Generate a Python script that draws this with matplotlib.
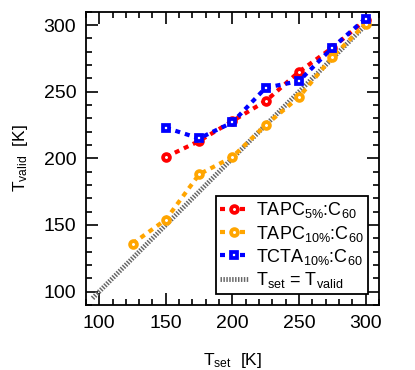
import matplotlib

matplotlib.use("Agg")
import matplotlib.pyplot as plt

plt.rcParams["font.family"] = ["Liberation Sans", "DejaVu Sans"]
plt.rcParams["mathtext.fontset"] = "custom"
plt.rcParams["mathtext.rm"] = "Liberation Sans"
plt.rcParams["mathtext.it"] = "Liberation Sans:italic"

# T_set [K] vs T_valid [K]
t_tapc5 = [150, 175, 200, 225, 250, 275, 300]
v_tapc5 = [201, 213, 228, 243, 265, 283, 304]
t_tapc10 = [125, 150, 175, 200, 225, 250, 275, 300]
v_tapc10 = [136, 154, 188, 201, 225, 246, 276, 301]
t_tcta10 = [150, 175, 200, 225, 250, 275, 300]
v_tcta10 = [223, 215, 227, 253, 258, 283, 305]
ident = [95, 300]

fig = plt.figure(figsize=(4.15, 3.70), dpi=100)
ax = fig.add_axes([0.207, 0.176, 0.706, 0.792])

ax.plot(ident, ident, color="#666666", lw=3.5, linestyle=(0, (0.3, 0.3)),
        zorder=2, label=r"T$_\mathrm{set}$ = T$_\mathrm{valid}$")

style = dict(lw=3, linestyle=(0, (1.2, 1.2)), markersize=4.9,
             markeredgewidth=2.7, markerfacecolor="white", zorder=3)
ax.plot(t_tapc5, v_tapc5, color="#ff0000", marker="o",
        label=r"TAPC$_{5\%}$:C$_{60}$", **style)
ax.plot(t_tapc10, v_tapc10, color="#ffa500", marker="o",
        label=r"TAPC$_{10\%}$:C$_{60}$", **style)
ax.plot(t_tcta10, v_tcta10, color="#0000ff", marker="s",
        label=r"TCTA$_{10\%}$:C$_{60}$", **style)

ax.set_xlim(90, 310)
ax.set_ylim(90, 310)
ax.set_xticks([100, 150, 200, 250, 300])
ax.set_yticks([100, 150, 200, 250, 300])
ax.set_xticks(range(90, 311, 10), minor=True)
ax.set_yticks(range(90, 311, 10), minor=True)
ax.tick_params(which="both", direction="in", top=True, right=True,
               labelsize=14, width=1.2, colors="black")
ax.tick_params(which="major", length=8.5, pad=7)
ax.tick_params(which="minor", length=4)
for s in ax.spines.values():
    s.set_linewidth(1.3)

ax.set_xlabel(r"T$_\mathrm{set}$  [K]", fontsize=12.5, labelpad=14)
ax.set_ylabel(r"T$_\mathrm{valid}$  [K]", fontsize=12.5, labelpad=10)

h, l = ax.get_legend_handles_labels()
order = [1, 2, 3, 0]
leg = ax.legend([h[i] for i in order], [l[i] for i in order],
                loc="lower right", fontsize=13, handlelength=1.6,
                handletextpad=0.4, labelspacing=0.18, borderpad=0.22,
                borderaxespad=0, fancybox=False, framealpha=1,
                edgecolor="black", bbox_to_anchor=(0.962, 0.037))
leg.get_frame().set_linewidth(1.3)

fig.savefig("out.png", dpi=100)
